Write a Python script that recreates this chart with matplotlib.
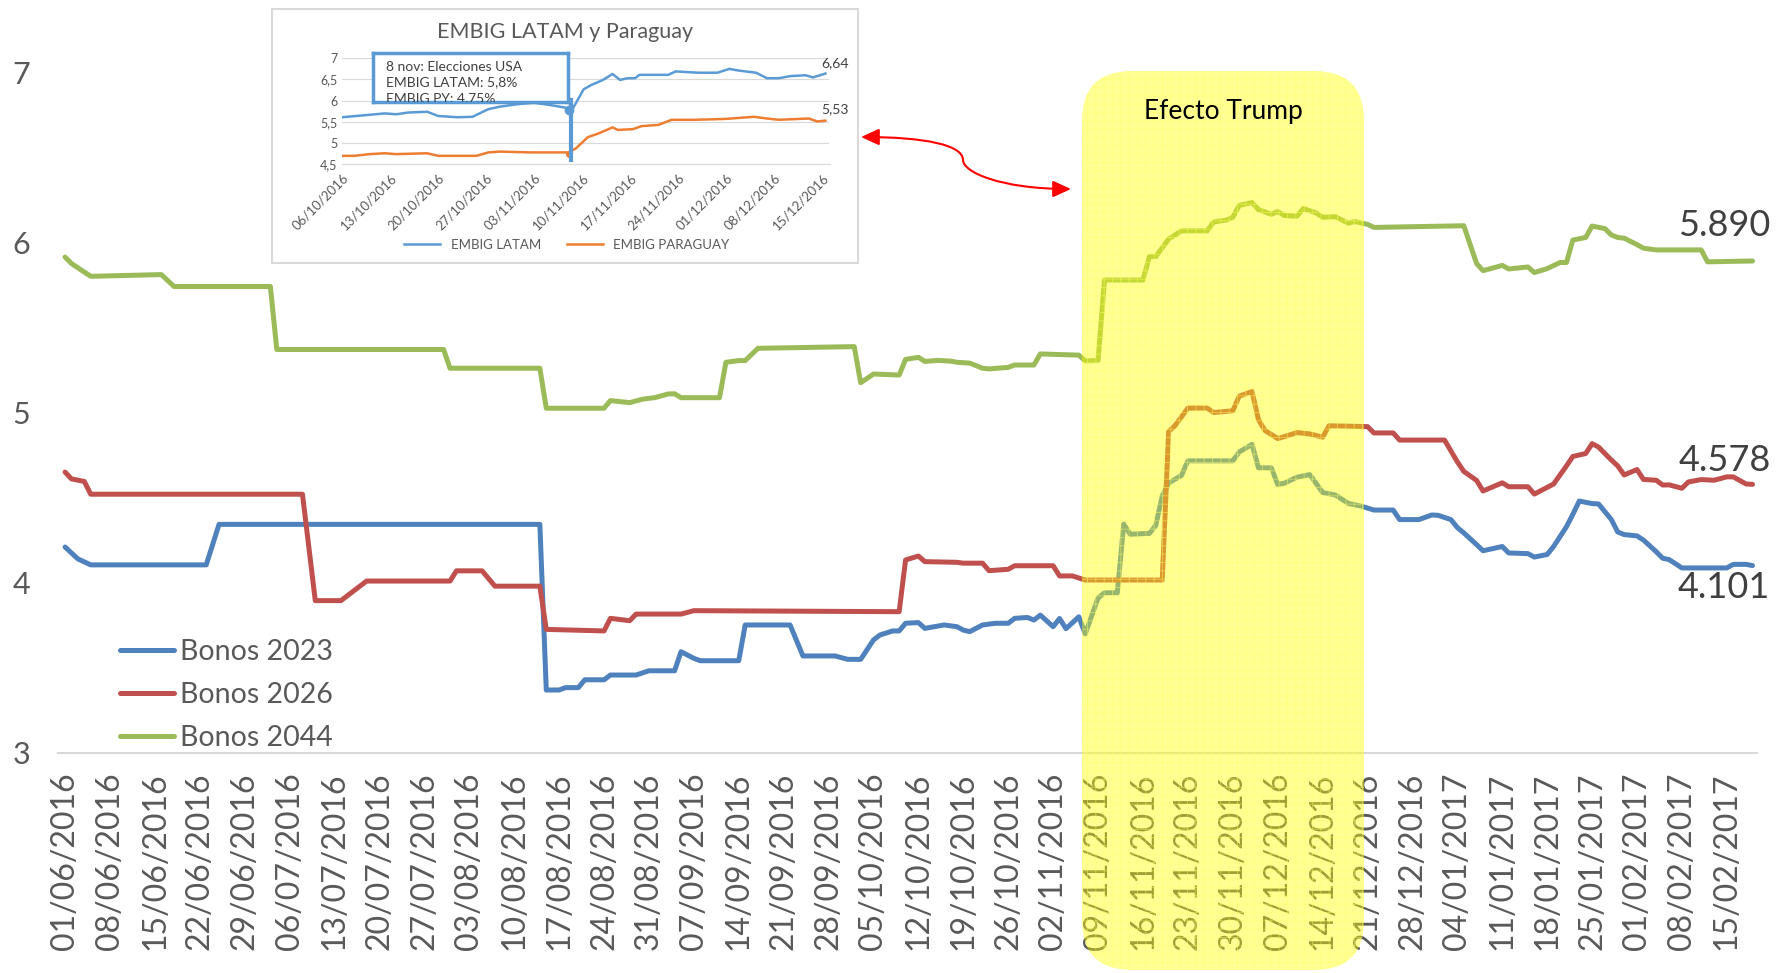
import matplotlib.pyplot as plt
import numpy as np
import pandas as pd
from matplotlib.patches import FancyBboxPatch, FancyArrowPatch, Rectangle
from matplotlib.path import Path
from matplotlib.lines import Line2D

plt.rcParams['font.family'] = ['Lato', 'DejaVu Sans']
plt.rcParams['hatch.linewidth'] = 0.6

W, H = 1790, 973

# main chart data, days counted from 01/06/2016
start = pd.Timestamp('2016-06-01')

b2023_days = [0, 2, 4, 22, 24, 74, 75, 77, 78, 80, 81, 84, 85, 89, 91, 95, 96, 98, 99, 105,
              106, 113, 115, 120, 122, 124, 126, 127, 129, 130, 131, 133, 134, 137, 139, 140,
              141, 143, 145, 147, 148, 150, 151, 152, 154, 155, 156, 158, 159, 161, 162, 164,
              165, 166, 169, 170, 171, 172, 174, 175, 182, 183, 185, 186, 188, 189, 190, 192,
              194, 196, 198, 200, 202, 204, 207, 208, 211, 213, 214, 216, 217, 218, 220, 221,
              224, 225, 228, 229, 231, 232, 234, 235, 236, 238, 239, 241, 242, 243, 245, 246,
              248, 249, 250, 252, 259, 260, 262, 263]
b2023_vals = [4.21, 4.14, 4.105, 4.105, 4.343, 4.343, 3.37, 3.37, 3.384, 3.384, 3.43, 3.43,
              3.458, 3.458, 3.483, 3.483, 3.595, 3.556, 3.542, 3.542, 3.752, 3.752, 3.57, 3.57,
              3.55, 3.55, 3.664, 3.693, 3.717, 3.717, 3.762, 3.766, 3.732, 3.752, 3.742, 3.722,
              3.713, 3.752, 3.762, 3.762, 3.791, 3.796, 3.781, 3.81, 3.742, 3.79, 3.73, 3.80,
              3.70, 3.91, 3.941, 3.941, 4.344, 4.285, 4.29, 4.337, 4.51, 4.586, 4.63, 4.716,
              4.716, 4.768, 4.813, 4.675, 4.675, 4.578, 4.584, 4.62, 4.635, 4.53, 4.515, 4.466,
              4.45, 4.427, 4.427, 4.371, 4.371, 4.398, 4.396, 4.371, 4.324, 4.293, 4.224, 4.188,
              4.213, 4.175, 4.171, 4.151, 4.166, 4.213, 4.329, 4.402, 4.48, 4.465, 4.463, 4.371,
              4.298, 4.283, 4.275, 4.251, 4.182, 4.144, 4.136, 4.087, 4.087, 4.108, 4.108, 4.101]

b2026_days = [0, 1, 3, 4, 37, 39, 43, 47, 60, 61, 65, 67, 74, 75, 84, 85, 88, 89, 96, 98, 130,
              131, 133, 134, 139, 140, 143, 144, 147, 148, 154, 155, 157, 159, 171, 172, 173,
              175, 178, 179, 182, 183, 185, 186, 187, 189, 190, 192, 194, 196, 197, 203, 204,
              207, 208, 215, 217, 218, 220, 221, 224, 225, 228, 229, 232, 234, 235, 237, 238,
              239, 241, 242, 243, 245, 246, 248, 249, 250, 252, 253, 255, 257, 259, 260, 262, 263]
b2026_vals = [4.65, 4.61, 4.595, 4.52, 4.52, 3.895, 3.895, 4.01, 4.01, 4.07, 4.07, 3.98, 3.98,
              3.726, 3.717, 3.791, 3.777, 3.816, 3.816, 3.836, 3.83, 4.134, 4.157, 4.124, 4.12,
              4.115, 4.115, 4.071, 4.079, 4.10, 4.10, 4.04, 4.04, 4.016, 4.016, 4.888, 4.923,
              5.026, 5.026, 5.0, 5.01, 5.096, 5.123, 4.958, 4.895, 4.847, 4.858, 4.882, 4.874,
              4.855, 4.922, 4.917, 4.88, 4.88, 4.838, 4.838, 4.71, 4.654, 4.601, 4.539, 4.587,
              4.564, 4.564, 4.521, 4.58, 4.686, 4.742, 4.759, 4.817, 4.797, 4.721, 4.686, 4.633,
              4.665, 4.607, 4.602, 4.574, 4.575, 4.555, 4.592, 4.606, 4.602, 4.622, 4.622, 4.58,
              4.578]

b2044_days = [0, 1, 4, 15, 17, 32, 33, 59, 60, 74, 75, 84, 85, 88, 90, 92, 94, 95, 96, 102,
              103, 105, 106, 108, 123, 124, 126, 130, 131, 133, 134, 136, 138, 139, 141, 143,
              144, 147, 148, 151, 152, 158, 159, 161, 162, 168, 169, 170, 172, 174, 178, 179,
              181, 182, 183, 185, 186, 188, 189, 190, 192, 193, 195, 196, 198, 200, 201, 203,
              204, 218, 220, 221, 224, 225, 228, 229, 231, 233, 234, 235, 237, 238, 240, 241,
              242, 243, 245, 246, 248, 255, 256, 263]
b2044_vals = [5.913, 5.875, 5.80, 5.81, 5.74, 5.74, 5.37, 5.37, 5.26, 5.26, 5.025, 5.025, 5.07,
              5.058, 5.078, 5.088, 5.109, 5.11, 5.087, 5.087, 5.295, 5.305, 5.305, 5.377, 5.387,
              5.175, 5.226, 5.22, 5.312, 5.324, 5.30, 5.306, 5.302, 5.295, 5.29, 5.26, 5.256,
              5.265, 5.279, 5.279, 5.344, 5.337, 5.303, 5.305, 5.778, 5.778, 5.916, 5.916, 6.019,
              6.067, 6.067, 6.119, 6.13, 6.147, 6.216, 6.233, 6.192, 6.164, 6.18, 6.157, 6.153,
              6.198, 6.172, 6.147, 6.15, 6.112, 6.122, 6.105, 6.087, 6.097, 5.875, 5.833, 5.864,
              5.843, 5.855, 5.822, 5.845, 5.881, 5.881, 6.013, 6.028, 6.095, 6.08, 6.043, 6.028,
              6.024, 5.986, 5.965, 5.955, 5.955, 5.885, 5.89]

series_names = ['Bonos 2023', 'Bonos 2026', 'Bonos 2044']
series_colors = ['#4F81BD', '#C0504D', '#9BBB59']
end_labels = ['4.101', '4.578', '5.890']

tick_dates = pd.date_range('2016-06-01', '2017-02-15', freq='7D')
tick_labels = list(tick_dates.strftime('%d/%m/%Y'))

# inset (EMBIG) data, days counted from 06/10/2016
inset_start = pd.Timestamp('2016-10-06')
latam_days = [0, 3.5, 6.2, 7.9, 9.6, 12.4, 14, 16.8, 19, 21.3, 23, 25.7, 28, 30.2, 32.4, 33.5,
              35.2, 36.3, 38, 39.4, 40.5, 41.6, 42.7, 43.3, 47.5, 48.6, 51.9, 54.7, 56.4, 57.8,
              60.3, 61.9, 63.6, 65.3, 67.5, 68.6, 70.4]
latam_vals = [5.61, 5.66, 5.70, 5.68, 5.72, 5.74, 5.64, 5.61, 5.62, 5.80, 5.86, 5.92, 5.95,
              5.90, 5.84, 5.78, 6.27, 6.37, 6.49, 6.63, 6.49, 6.53, 6.53, 6.61, 6.61, 6.69,
              6.66, 6.66, 6.75, 6.71, 6.66, 6.53, 6.53, 6.58, 6.60, 6.55, 6.64]
py_days = [0, 1.8, 4, 6.2, 7.9, 12.4, 14, 19.6, 21.3, 23, 27.5, 33, 34.1, 35.8, 37.4, 39.4,
           40.2, 42.4, 43.6, 46.1, 48, 51.4, 55.8, 60, 61.9, 63.6, 68, 69.2, 70.4]
py_vals = [4.70, 4.70, 4.74, 4.76, 4.74, 4.76, 4.70, 4.70, 4.78, 4.80, 4.78, 4.78, 4.88, 5.14,
           5.23, 5.37, 5.31, 5.33, 5.40, 5.43, 5.55, 5.55, 5.57, 5.62, 5.58, 5.55, 5.58, 5.51,
           5.53]
inset_ticks = pd.date_range('2016-10-06', '2016-12-15', freq='7D')
inset_tick_labels = list(inset_ticks.strftime('%d/%m/%Y'))
inset_yticks = [4.5, 5, 5.5, 6, 6.5, 7]
inset_ytick_labels = ['4,5', '5', '5,5', '6', '6,5', '7']
callout_day = 33
callout_latam = 5.78
callout_py = 4.75
callout_lines = ['8 nov: Elecciones USA', 'EMBIG LATAM: 5,8%', 'EMBIG PY: 4,75%']


def fx(x):
    return x / W


def fy(y):
    return 1 - y / H


def dates(base, days):
    return base + pd.to_timedelta(np.array(days, dtype=float), unit='D')


fig = plt.figure(figsize=(W / 100, H / 100), dpi=100)

# ---- main chart ----
ax = fig.add_axes([fx(58), fy(753), (1757 - 58) / W, (753 - 72) / H])
all_days = [b2023_days, b2026_days, b2044_days]
all_vals = [b2023_vals, b2026_vals, b2044_vals]
for d, v, name, col in zip(all_days, all_vals, series_names, series_colors):
    ax.plot(dates(start, d), v, color=col, lw=3.6, label=name,
            solid_joinstyle='round', solid_capstyle='round')

offsets = [(-29, -22), (-28, 24), (-28, 35)]
for d, v, lab, off in zip(all_days, all_vals, end_labels, offsets):
    ax.annotate(lab, (dates(start, [d[-1]])[0], v[-1]), xytext=off, textcoords='offset pixels',
                ha='center', va='center', fontsize=26, color='#404040')

ax.set_xlim(start + pd.Timedelta(days=-1.1), start + pd.Timedelta(days=263.7))
ax.set_ylim(3, 7)
ax.set_yticks([3, 4, 5, 6, 7])
ax.set_xticks(tick_dates)
ax.set_xticklabels(tick_labels, rotation=90)
ax.tick_params(axis='both', length=0, labelcolor='#595959')
ax.tick_params(axis='x', pad=14, labelsize=23)
ax.tick_params(axis='y', pad=20, labelsize=22)
for s in ['top', 'right', 'left']:
    ax.spines[s].set_visible(False)
ax.spines['bottom'].set_color('#D9D9D9')
ax.spines['bottom'].set_linewidth(1.5)

leg = ax.legend(loc='lower left', bbox_to_anchor=(fx(120), fy(751)), bbox_transform=fig.transFigure,
                frameon=False, fontsize=20.5, handlelength=1.9, handletextpad=0.2,
                labelspacing=0.6, borderpad=0, borderaxespad=0)
for t in leg.get_texts():
    t.set_color('#595959')

# ---- yellow "Efecto Trump" band ----
band = FancyBboxPatch((10.82, 0.03), 2.82, 8.99, boxstyle='round,pad=0,rounding_size=0.5',
                      transform=fig.dpi_scale_trans, facecolor='#FFFF00', edgecolor='none',
                      alpha=0.42, zorder=3)
fig.add_artist(band)
dots = FancyBboxPatch((10.82, 0.03), 2.82, 8.99, boxstyle='round,pad=0,rounding_size=0.5',
                      transform=fig.dpi_scale_trans, facecolor='none', edgecolor='#FFFF66',
                      lw=0, hatch='++', alpha=0.5, zorder=3)
fig.add_artist(dots)
fig.text(fx(1223), fy(111), 'Efecto Trump', ha='center', va='center', fontsize=19,
         color='black', zorder=6)

# ---- inset picture of the EMBIG chart ----
frame = Rectangle((fx(272), fy(263)), (858 - 272) / W, (263 - 9) / H, transform=fig.transFigure,
                  facecolor='white', edgecolor='#D9D9D9', lw=1.5, zorder=1)
fig.add_artist(frame)
fig.text(fx(565), fy(32), 'EMBIG LATAM y Paraguay', ha='center', va='center', fontsize=15.5,
         color='#595959', zorder=2)

ax_in = fig.add_axes([fx(342), fy(164.3), (829.5 - 342) / W, (164.3 - 58.3) / H], zorder=2)
ax_in.patch.set_alpha(0)
ax_in.plot(dates(inset_start, latam_days), latam_vals, color='#5B9BD5', lw=1.8, label='EMBIG LATAM')
ax_in.plot(dates(inset_start, py_days), py_vals, color='#ED7D31', lw=1.8, label='EMBIG PARAGUAY')
ax_in.plot(dates(inset_start, [callout_day]), [callout_latam], 'o', color='#5B9BD5', ms=6)
ax_in.plot(dates(inset_start, [callout_day]), [callout_py], 'o', color='#ED7D31', ms=4)
ax_in.annotate('6,64', (dates(inset_start, [latam_days[-1]])[0], latam_vals[-1]), xytext=(10, 10),
               textcoords='offset pixels', ha='center', va='center', fontsize=10, color='#404040')
ax_in.annotate('5,53', (dates(inset_start, [py_days[-1]])[0], py_vals[-1]), xytext=(10, 11),
               textcoords='offset pixels', ha='center', va='center', fontsize=10, color='#404040')
ax_in.set_xlim(inset_start, inset_start + pd.Timedelta(days=71))
ax_in.set_ylim(4.5, 7)
ax_in.set_yticks(inset_yticks)
ax_in.set_yticklabels(inset_ytick_labels)
ax_in.set_xticks(inset_ticks)
ax_in.set_xticklabels(inset_tick_labels, rotation=45, ha='right', rotation_mode='anchor')
ax_in.tick_params(axis='both', length=0, labelcolor='#595959', labelsize=9)
ax_in.tick_params(axis='x', pad=5, labelsize=9.5)
ax_in.grid(axis='y', color='#D9D9D9', lw=0.8)
for s in ['top', 'right', 'left']:
    ax_in.spines[s].set_visible(False)
ax_in.spines['bottom'].set_color('#D9D9D9')
ax_in.legend(loc='center', bbox_to_anchor=(fx(567), fy(245)), bbox_transform=fig.transFigure,
             ncol=2, frameon=False, fontsize=9.5, handlelength=2.7, columnspacing=2,
             labelcolor='#595959')

# callout box of the inset
fig.add_artist(Line2D([fx(571), fx(571)], [fy(100), fy(160)], color='#5B9BD5', lw=3, zorder=3))
ax_c = fig.add_axes([fx(372.6), fy(101.7), 195 / W, 49 / H], zorder=4)
ax_c.set_xticks([])
ax_c.set_yticks([])
for s in ax_c.spines.values():
    s.set_color('#5B9BD5')
    s.set_linewidth(2.5)
for i, line in enumerate(callout_lines):
    ax_c.text(0.07, 0.7 - i * 0.31, line, transform=ax_c.transAxes, ha='left', va='center',
              fontsize=10, color='#404040', clip_on=True)

# red double arrow from the inset to the band
pts = [(861, 137), (925, 137), (963, 145), (963, 160), (963, 172), (1000, 189), (1071, 189)]
verts = [(x / 100, (H - y) / 100) for x, y in pts]
codes = [Path.MOVETO] + [Path.CURVE4] * 6
arrow = FancyArrowPatch(path=Path(verts, codes), arrowstyle='<|-|>,head_length=0.55,head_width=0.25',
                        mutation_scale=20, color='red', lw=1.5, transform=fig.dpi_scale_trans,
                        zorder=6)
fig.add_artist(arrow)

fig.savefig('out.png', dpi=100)
